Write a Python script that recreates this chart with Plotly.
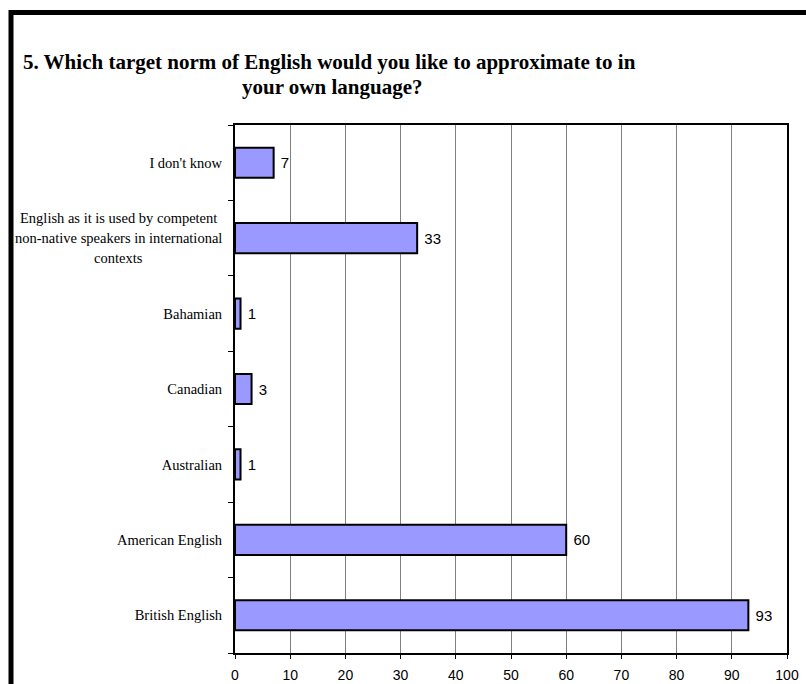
import plotly.graph_objects as go

# ---- data ----
categories = [
    "British English",
    "American English",
    "Australian",
    "Canadian",
    "Bahamian",
    "English as it is used by competent non-native speakers in international contexts",
    "I don't know",
]
values = [93, 60, 1, 3, 1, 33, 7]
long_label_lines = [
    "English as it is used by competent",
    "non-native speakers in international",
    "contexts",
]
x_ticks = [0, 10, 20, 30, 40, 50, 60, 70, 80, 90, 100]
title_lines = [
    "5. Which target norm of English would you like to approximate to in",
    "your own language?",
]

W, H = 806, 684
ML, MR, MT, MB = 235, 19, 125, 31
PW, PH = W - ML - MR, H - MT - MB

SERIF = "Liberation Serif, Times New Roman, serif"
SANS = "Liberation Sans, Arial, sans-serif"


def px_x(px):
    return (px - ML) / PW


def px_y(py):
    return (H - MB - py) / PH


long_cat = categories[5]
ticktext = ["" if c == long_cat else c for c in categories]

fig = go.Figure()
fig.add_trace(
    go.Bar(
        x=values,
        y=categories,
        orientation="h",
        marker=dict(color="#9999FF", line=dict(color="black", width=2)),
        text=[str(v) for v in values],
        texttemplate=" %{text}",
        textposition="outside",
        textfont=dict(family=SANS, size=15, color="black"),
        cliponaxis=False,
        hoverinfo="skip",
    )
)

annotations = []
for i, line in enumerate(long_label_lines):
    annotations.append(
        dict(
            text=line,
            xref="paper",
            x=px_x(118),
            xanchor="center",
            yref="y",
            y=long_cat,
            yanchor="middle",
            yshift=20 - 20 * i,
            showarrow=False,
            font=dict(family=SERIF, size=14.5, color="black"),
        )
    )
annotations.append(
    dict(
        text="<b>" + title_lines[0] + "</b>",
        xref="paper", yref="paper",
        x=px_x(329), y=px_y(62),
        xanchor="center", yanchor="middle",
        showarrow=False,
        font=dict(family=SERIF, size=21, color="black"),
    )
)
annotations.append(
    dict(
        text="<b>" + title_lines[1] + "</b>",
        xref="paper", yref="paper",
        x=px_x(332), y=px_y(87),
        xanchor="center", yanchor="middle",
        showarrow=False,
        font=dict(family=SERIF, size=21, color="black"),
    )
)

shapes = [
    dict(
        type="path",
        xref="paper", yref="paper",
        path=f"M {px_x(11)} {px_y(720)} L {px_x(11)} {px_y(12.5)} L {px_x(830)} {px_y(12.5)}",
        line=dict(color="black", width=5),
    )
]

fig.update_layout(
    width=W,
    height=H,
    margin=dict(l=ML, r=MR, t=MT, b=MB, pad=0, autoexpand=False),
    paper_bgcolor="white",
    plot_bgcolor="white",
    showlegend=False,
    bargap=0.6,
    annotations=annotations,
    shapes=shapes,
)
fig.update_xaxes(
    automargin=False,
    range=[0, 100],
    tickvals=x_ticks,
    ticktext=[str(t) for t in x_ticks],
    showgrid=True,
    gridcolor="#808080",
    gridwidth=1,
    zeroline=False,
    showline=True,
    linecolor="black",
    linewidth=2,
    mirror=True,
    ticks="outside",
    ticklen=4,
    tickcolor="black",
    ticklabelstandoff=4,
    tickfont=dict(family=SANS, size=14, color="black"),
)
fig.update_yaxes(
    automargin=False,
    categoryorder="array",
    categoryarray=categories,
    tickvals=categories,
    ticktext=ticktext,
    showgrid=False,
    showline=True,
    linecolor="black",
    linewidth=2,
    mirror=True,
    ticks="outside",
    ticklen=5,
    tickcolor="black",
    tickson="boundaries",
    ticklabelstandoff=8,
    tickfont=dict(family=SERIF, size=14.5, color="black"),
)

fig.write_html(
    "out.html",
    config={"displayModeBar": False},
    post_script="document.body.style.margin='0';document.body.style.overflow='hidden';",
)
